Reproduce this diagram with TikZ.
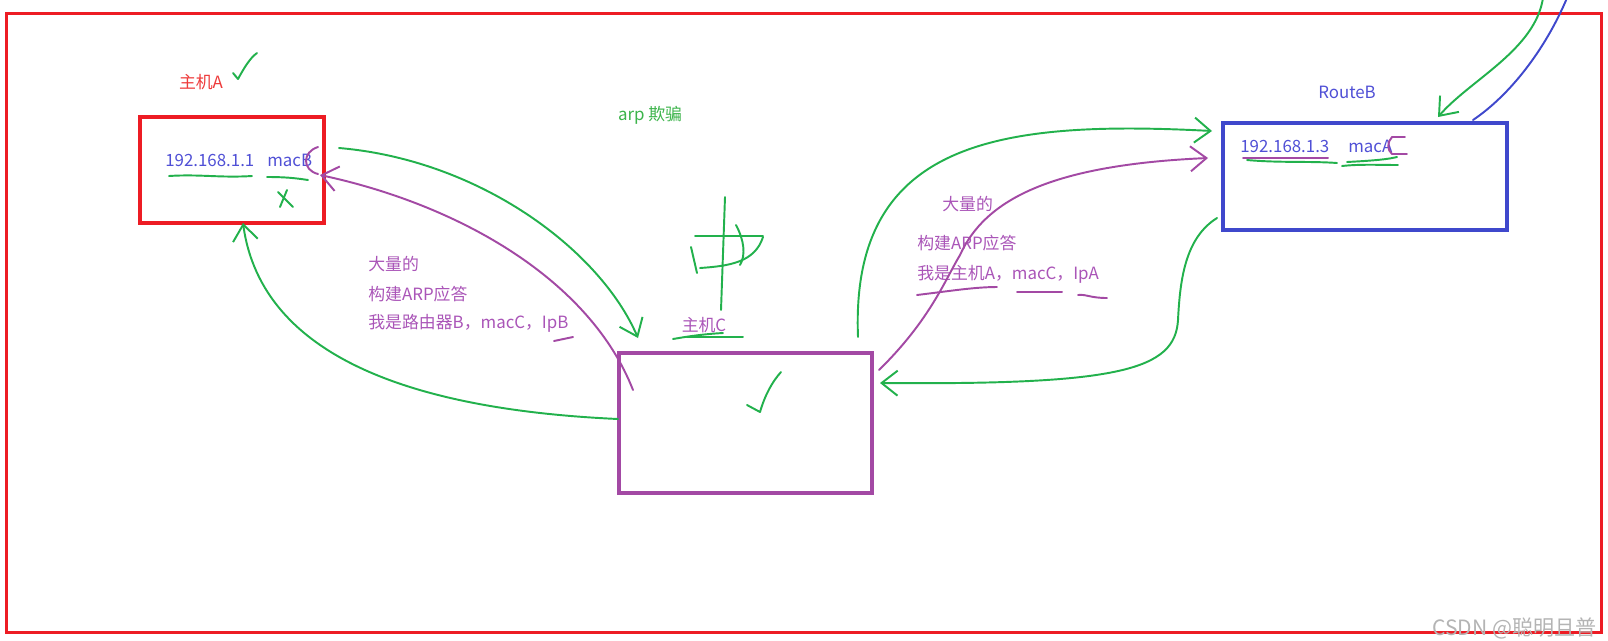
\documentclass[tikz,border=0pt]{standalone}
\usepackage{fontspec}
\setmainfont{Noto Sans CJK SC}
\usetikzlibrary{arrows.meta}
\definecolor{pred}{HTML}{ED1C24}
\definecolor{predtxt}{HTML}{EE3B3B}
\definecolor{pblue}{HTML}{3F48CC}
\definecolor{pbluetxt}{HTML}{5050D6}
\definecolor{ppurple}{HTML}{A349A4}
\definecolor{ppurpletxt}{HTML}{AA55B8}
\definecolor{pgreen}{HTML}{22B14C}
\definecolor{pgreentxt}{HTML}{3CB44B}
\definecolor{wmark}{HTML}{B4B4B4}
\begin{document}
\begin{tikzpicture}[x=0.02cm,y=-0.02cm,
  every node/.style={font=\fontsize{9.6pt}{11pt}\selectfont, inner sep=0pt},
  boxstyle/.style={draw, line width=2.2pt, minimum width=#1},
  frameline/.style={draw=pred, line width=1.7pt},
  gline/.style={draw=pgreen, line width=1.1pt, line cap=round, line join=round},
  vline/.style={draw=ppurple, line width=1.1pt, line cap=round, line join=round},
  bline/.style={draw=pblue, line width=1.1pt, line cap=round},
  barb/.style={-{Straight Barb[length=0.32cm,width=0.5cm]}},
  ptxt/.style={text=ppurpletxt, anchor=west},
]
\useasboundingbox (0,0) rectangle (1608,640);
\fill[white] (0,0) rectangle (1608,640);

% outer frame
\node[frameline, minimum width=31.92cm, minimum height=12.4cm] (frame) at (804,323) {};

% boxes
\node[boxstyle=3.68cm, draw=pred, minimum height=2.12cm] (hostA) at (232,170) {};
\node[boxstyle=5.06cm, draw=ppurple, minimum height=2.8cm] (hostC) at (745.5,423) {};
\node[boxstyle=5.68cm, draw=pblue, minimum height=2.14cm] (routeB) at (1365,176.5) {};

% labels
\node[text=predtxt] (labA) at (201,82) {主机A};
\node[text=ppurpletxt] (labC) at (704,325) {主机C};
\node[text=pbluetxt] (labB) at (1347,92) {RouteB};
\node[text=pgreentxt] (title) at (650,115) {arp 欺骗};

\node[text=pbluetxt, anchor=west] (ipA) at (165,160) {192.168.1.1};
\node[text=pbluetxt, anchor=west] (macA) at (267,160) {macB};
\node[text=pbluetxt, anchor=west] (ipB) at (1240,146) {192.168.1.3};
\node[text=pbluetxt, anchor=west] (macB) at (1348,146) {macA};

\node[ptxt] (l1) at (368,264) {大量的};
\node[ptxt] (l2) at (368,294) {构建ARP应答};
\node[ptxt] (l3) at (368,323) {我是路由器B，macC，IpB};
\node[ptxt] (r1) at (942,204) {大量的};
\node[ptxt] (r2) at (917,243) {构建ARP应答};
\node[ptxt] (r3) at (917,274) {我是主机A，macC，IpA};

\node[text=wmark, anchor=west, font=\fontsize{12pt}{14pt}\selectfont] (wm) at (1432,628) {CSDN @聪明且普};

% connector endpoints
\coordinate (g1s) at (339,148);
\coordinate (g1e) at (638,338);
\coordinate (p1s) at (633,390);
\coordinate (p1e) at (320,175);
\coordinate (g2s) at (618,419);
\coordinate (g2e) at (243,223);
\coordinate (g3s) at (858,337);
\coordinate (g3e) at (1212,131);
\coordinate (p2s) at (879,370);
\coordinate (p2e) at (1208,158);
\coordinate (g4s) at (1217,218);
\coordinate (g4e) at (880,383);
\coordinate (g5s) at (1543,-2);
\coordinate (g5e) at (1438,117);
\coordinate (b5s) at (1567,-2);
\coordinate (b5e) at (1473,120);

% connectors
\draw[gline, barb] (g1s) .. controls (480,160) and (600,250) .. (g1e);
\draw[vline, barb] (p1s) .. controls (590,280) and (460,205) .. (p1e);
\draw[gline, barb] (g2s) .. controls (420,410) and (262,360) .. (g2e);
\draw[gline, barb] (g3s) .. controls (850,140) and (1000,120) .. (g3e);
\draw[vline, barb] (p2s) .. controls (930,320) and (945,280) .. (960,255)
      .. controls (985,200) and (1050,165) .. (p2e);
\draw[gline, barb] (g4s) .. controls (1185,238) and (1180,280) .. (1178,320)
      .. controls (1175,370) and (1120,385) .. (g4e);
\draw[gline, barb] (g5s) .. controls (1535,50) and (1470,80) .. (g5e);
\draw[bline] (b5s) .. controls (1545,50) and (1510,95) .. (b5e);

% hand marks host A
\draw[gline] (233,73) -- (238,79) .. controls (244,68) and (250,58) .. (257,53);
\draw[gline] (169,176) .. controls (200,174) and (220,178) .. (252,176);
\draw[gline] (267,177) .. controls (285,177) and (295,178) .. (308,180);
\draw[gline] (278,192) -- (293,207);
\draw[gline] (287,190) -- (280,207);
\draw[vline] (318,147) .. controls (302,152) and (302,170) .. (318,174);

% hand marks host C
\draw[gline] (747,405) -- (760,412) .. controls (765,395) and (772,382) .. (781,372);
\draw[gline] (673,339) .. controls (690,336) and (705,334) .. (723,333);
\draw[gline] (687,337) -- (743,337);
% hand-drawn character
\draw[gline] (725,197) -- (721,310);
\draw[gline] (695,236) -- (763,236);
\draw[gline] (691,247) -- (697,273);
\draw[gline] (700,268) .. controls (730,266) and (755,262) .. (763,237);
\draw[gline] (736,225) .. controls (744,240) and (746,255) .. (740,265);

% underlines
\draw[vline] (554,341) -- (573,337);
\draw[vline] (917,295) .. controls (950,291) and (975,287) .. (997,287);
\draw[vline] (1017,292) -- (1062,292);
\draw[vline] (1078,295) .. controls (1086,294) and (1090,298) .. (1107,298);

% RouteB marks
\draw[vline] (1243,158) -- (1328,158);
\draw[gline] (1247,160) .. controls (1280,163) and (1310,161) .. (1337,163);
\draw[gline] (1342,166) .. controls (1360,164) and (1380,165) .. (1398,165);
\draw[gline] (1347,162) .. controls (1365,161) and (1385,160) .. (1397,157);
\draw[vline] (1405,137) -- (1392,137) .. controls (1387,142) and (1387,150) .. (1392,154) -- (1407,154);
\end{tikzpicture}
\end{document}
